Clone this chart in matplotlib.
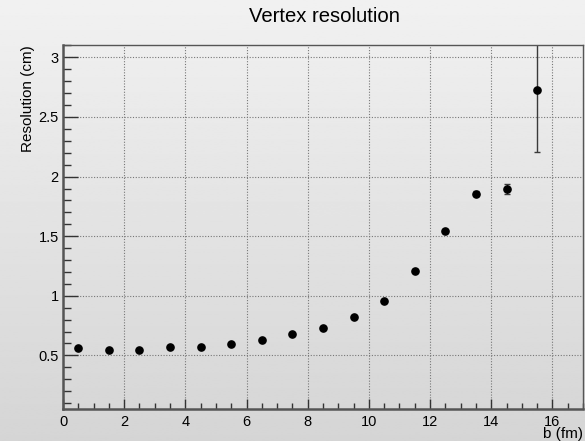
import numpy as np
import matplotlib
matplotlib.use("Agg")
import matplotlib.pyplot as plt
from matplotlib.ticker import MultipleLocator

plt.rcParams['font.family'] = ['Liberation Sans', 'DejaVu Sans']

# Datos: parametro de impacto b (fm) vs resolucion del vertice (cm)
b = [0.5, 1.5, 2.5, 3.5, 4.5, 5.5, 6.5, 7.5, 8.5, 9.5, 10.5, 11.5, 12.5, 13.5, 14.5, 15.5]
res = [0.561, 0.542, 0.547, 0.572, 0.572, 0.594, 0.628, 0.680, 0.733, 0.825,
       0.958, 1.210, 1.544, 1.855, 1.897, 2.723]
err = [0.005, 0.005, 0.005, 0.005, 0.005, 0.005, 0.006, 0.006, 0.007, 0.008,
       0.010, 0.012, 0.015, 0.020, 0.044, 0.520]

fig = plt.figure(figsize=(5.85, 4.41), dpi=100)

# fondo degradado estilo ROOT
bg = fig.add_axes([0, 0, 1, 1], zorder=-10)
grad = np.linspace(0.945, 0.835, 256).reshape(-1, 1)
bg.imshow(grad, aspect='auto', cmap='gray', vmin=0, vmax=1, extent=[0, 1, 0, 1])
bg.axis('off')

ax = fig.add_axes([63/585, 1 - 409/441, 520/585, 364/441])
ax.set_facecolor('none')

ax.errorbar(b, res, yerr=err, fmt='o', color='black', markersize=5.2,
            ecolor='#3a3a3a', elinewidth=1.0, capsize=2, capthick=1.0)

ax.set_xlim(0, 17)
ax.set_ylim(0.05, 3.104)

ax.xaxis.set_major_locator(MultipleLocator(2))
ax.xaxis.set_minor_locator(MultipleLocator(0.5))
ax.yaxis.set_major_locator(MultipleLocator(0.5))
ax.yaxis.set_minor_locator(MultipleLocator(0.1))
ax.set_yticks([0.5, 1, 1.5, 2, 2.5, 3])
ax.set_yticklabels(['0.5', '1', '1.5', '2', '2.5', '3'])

ax.tick_params(axis='both', which='both', direction='in', top=False, right=False,
               labelsize=10.5, color='#333333')
ax.tick_params(axis='y', which='major', length=11, width=1.0, pad=3)
ax.tick_params(axis='y', which='minor', length=6, width=1.0)
ax.tick_params(axis='x', which='major', length=7, width=1.0, pad=4)
ax.tick_params(axis='x', which='minor', length=4.5, width=1.0)

ax.grid(True, which='major', color='#777777', linestyle=(0, (1, 1.5)), linewidth=0.8)

for s in ['left', 'bottom']:
    ax.spines[s].set_color('#555555')
    ax.spines[s].set_linewidth(1.8)
for s in ['top', 'right']:
    ax.spines[s].set_color('#555555')
    ax.spines[s].set_linewidth(1.0)

fig.text(0.554, 0.962, 'Vertex resolution', ha='center', va='center', fontsize=14.6)
ax.set_ylabel('Resolution (cm)', fontsize=11, loc='top', labelpad=2.5)
ax.set_xlabel('b (fm)', fontsize=11, loc='right', labelpad=-1)

fig.savefig('out.png', dpi=100)
